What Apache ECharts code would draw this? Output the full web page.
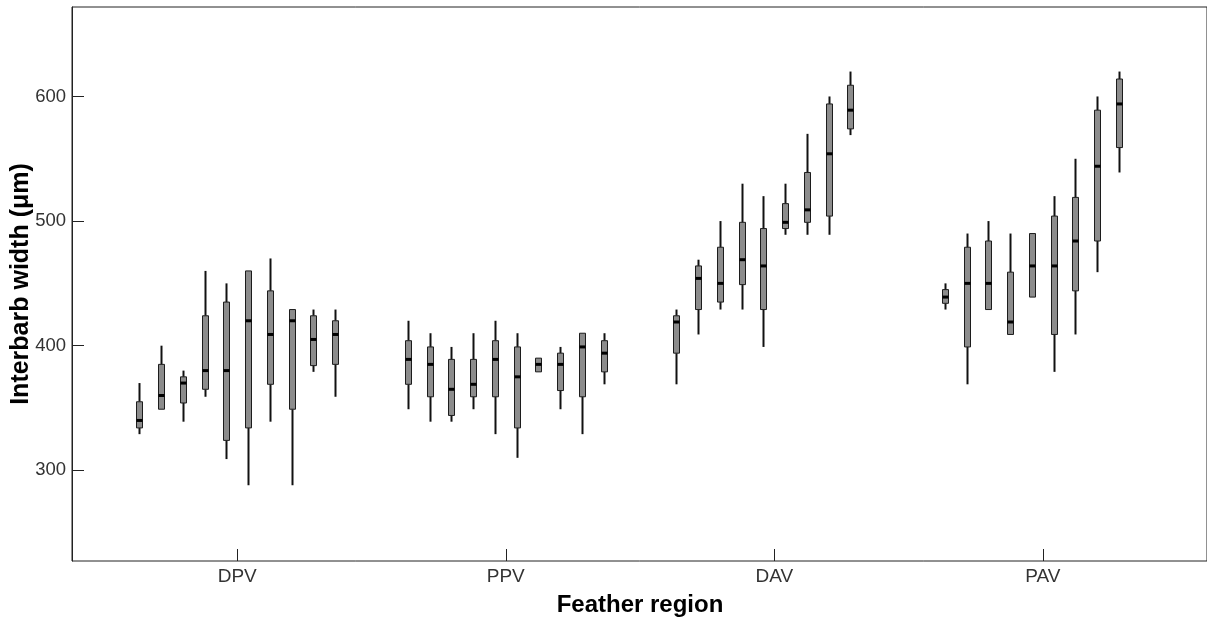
<!DOCTYPE html>
<html>
<head>
<meta charset="utf-8">
<title>Interbarb width by feather region</title>
<script src="https://cdn.jsdelivr.net/npm/echarts@6/dist/echarts.min.js"></script>
<style>
  html, body { margin: 0; padding: 0; background: #ffffff; }
  #chart { width: 1207px; height: 621px; }
</style>
</head>
<body>
<div id="chart"></div>
<script>
// Feather regions on the x axis
const regions = ['DPV', 'PPV', 'DAV', 'PAV'];

// Interbarb width (µm) per sample: [min, Q1, median, Q3, max]
const dpvBoxes = [
  [329, 334, 340, 355, 370],
  [349, 349, 360, 385, 400],
  [339, 354, 370, 375, 380],
  [359, 365, 380, 424, 460],
  [309, 324, 380, 435, 450],
  [288, 334, 420, 460, 460],
  [339, 369, 409, 444, 470],
  [288, 349, 420, 429, 429],
  [379, 384, 405, 424, 429],
  [359, 385, 409, 420, 429]
];
const ppvBoxes = [
  [349, 369, 389, 404, 420],
  [339, 359, 385, 399, 410],
  [339, 344, 365, 389, 399],
  [349, 359, 369, 389, 410],
  [329, 359, 389, 404, 420],
  [310, 334, 375, 399, 410],
  [379, 379, 385, 390, 390],
  [349, 364, 385, 394, 399],
  [329, 359, 399, 410, 410],
  [369, 379, 394, 404, 410]
];
const davBoxes = [
  [369, 394, 419, 424, 429],
  [409, 429, 454, 464, 469],
  [429, 435, 450, 479, 500],
  [429, 449, 469, 499, 530],
  [399, 429, 464, 494, 520],
  [489, 494, 499, 514, 530],
  [489, 499, 509, 539, 570],
  [489, 504, 554, 594, 600],
  [569, 574, 589, 609, 620]
];
const pavBoxes = [
  [429, 434, 439, 445, 450],
  [369, 399, 450, 479, 490],
  [429, 429, 450, 484, 500],
  [409, 409, 419, 459, 490],
  [439, 439, 464, 490, 490],
  [379, 409, 464, 504, 520],
  [409, 444, 484, 519, 550],
  [459, 484, 544, 589, 600],
  [539, 559, 594, 614, 620]
];

// Value axis ticks and range
const yTicks = [300, 400, 500, 600];
const yMin = 227.2;
const yMax = 671.8;

// Ten sample slots share each region's band
const slotsPerRegion = 10;

const boxGroups = [dpvBoxes, ppvBoxes, davBoxes, pavBoxes];
const seriesData = [];
boxGroups.forEach(function (boxes, r) {
  boxes.forEach(function (b, s) {
    seriesData.push([r, s].concat(b));
  });
});

function renderBox(params, api) {
  const cat = api.value(0);
  const slot = api.value(1);
  const band = api.size([1, 0])[0];
  const step = band * 0.081;
  const cx = Math.round(api.coord([cat, yMin])[0] + (slot - (slotsPerRegion - 1) / 2) * step) + 0.5;
  const pMin = api.coord([cat, api.value(2)])[1];
  const pQ1 = api.coord([cat, api.value(3)])[1];
  const pMed = api.coord([cat, api.value(4)])[1];
  const pQ3 = api.coord([cat, api.value(5)])[1];
  const pMax = api.coord([cat, api.value(6)])[1];
  const w = 6;
  const ink = '#111111';
  return {
    type: 'group',
    children: [
      { type: 'line', shape: { x1: cx, y1: pMax, x2: cx, y2: pQ3 }, style: { stroke: ink, lineWidth: 2 } },
      { type: 'line', shape: { x1: cx, y1: pQ1, x2: cx, y2: pMin }, style: { stroke: ink, lineWidth: 2 } },
      { type: 'rect', shape: { x: cx - w / 2, y: pQ3, width: w, height: Math.max(pQ1 - pQ3, 1) },
        style: { fill: '#8c8c8c', stroke: '#1c1c1c', lineWidth: 1 } },
      { type: 'line', shape: { x1: cx - w / 2, y1: pMed, x2: cx + w / 2, y2: pMed },
        style: { stroke: '#000000', lineWidth: 3 } }
    ]
  };
}

const chart = echarts.init(document.getElementById('chart'), null, { renderer: 'canvas' });

const labelFont = '"Liberation Sans", Arial, sans-serif';

chart.setOption({
  animation: false,
  backgroundColor: '#ffffff',
  grid: [
    // frame around the plotting area
    { left: 72, right: 0, top: 7, bottom: 60, outerBoundsMode: 'none', containLabel: false,
      show: true, borderColor: '#222222', borderWidth: 1, backgroundColor: 'transparent' },
    // band area holding the four regions
    { left: 103, right: 30, top: 7, bottom: 60, outerBoundsMode: 'none', containLabel: false }
  ],
  xAxis: [
    { gridIndex: 0, type: 'value', show: false, min: 0, max: 1 },
    {
      gridIndex: 1,
      type: 'category',
      data: regions,
      boundaryGap: true,
      axisLine: { show: false },
      axisTick: { show: true, inside: true, length: 12, alignWithLabel: true, lineStyle: { color: '#222222', width: 1 } },
      axisLabel: { color: '#333333', fontSize: 19, fontFamily: labelFont, margin: 6 },
      name: 'Feather region',
      nameLocation: 'middle',
      nameGap: 32,
      nameMoveOverlap: false,
      nameTextStyle: { color: '#000000', fontSize: 24, fontWeight: 'bold', fontFamily: labelFont }
    }
  ],
  yAxis: [
    {
      gridIndex: 0,
      type: 'value',
      min: yMin,
      max: yMax,
      splitLine: { show: false },
      axisLine: { show: true, lineStyle: { color: '#222222', width: 1 } },
      axisTick: { show: true, inside: true, length: 12, customValues: yTicks, lineStyle: { color: '#222222', width: 1 } },
      axisLabel: { color: '#333333', fontSize: 18.5, fontFamily: labelFont, margin: 6, customValues: yTicks },
      name: 'Interbarb width (μm)',
      nameLocation: 'middle',
      nameGap: 38,
      nameMoveOverlap: false,
      nameTextStyle: { color: '#000000', fontSize: 25, fontWeight: 'bold', fontFamily: labelFont }
    },
    { gridIndex: 1, type: 'value', min: yMin, max: yMax, show: false, splitLine: { show: false } }
  ],
  series: [
    {
      type: 'custom',
      xAxisIndex: 1,
      yAxisIndex: 1,
      renderItem: renderBox,
      encode: { x: 0, y: [2, 3, 4, 5, 6] },
      data: seriesData,
      clip: false
    }
  ]
});
</script>
</body>
</html>
